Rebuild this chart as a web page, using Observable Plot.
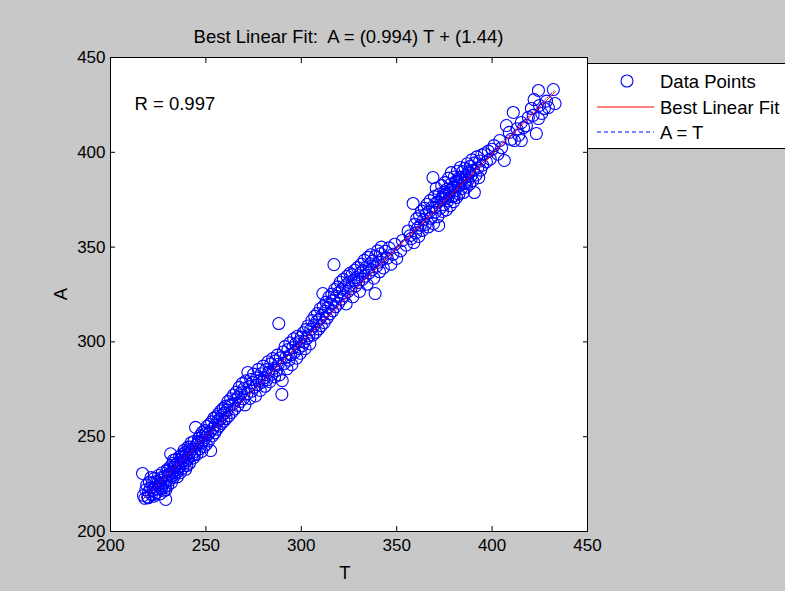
<!DOCTYPE html>
<html><head><meta charset="utf-8">
<script src="https://cdn.jsdelivr.net/npm/d3@7"></script>
<script src="https://cdn.jsdelivr.net/npm/@observablehq/plot@0.6"></script>
<style>
html,body{margin:0;padding:0;background:#c8c8c8;overflow:hidden}
#chart svg{display:block}
</style></head><body><div id="chart"></div>
<script>
// ---- data ----
const xTicks = [200, 250, 300, 350, 400, 450];
const yTicks = [200, 250, 300, 350, 400, 450];
const slope = 0.994, intercept = 1.44, rValue = 0.997;
const legendLabels = ["Data Points", "Best Linear Fit", "A = T"];

const t1 = [216.8,217.3,218,218.5,219,219.5,220,220.4,221,221.5,222,222.3,222.8,223,223.5,224,224.3,224.8,225.2,225.6,226,226.4,226.8,227.2,227.5,228,228.3,228.9,229.2,229.6,230,230.4,230.8,231.2,231.5,231.9,232.3,232.7,233,233.4,233.8,234.2,234.6,235,235.4,235.8,236.2,236.6,237,237.4,237.8,238.2,238.6,239,239.4,239.8,240.2,240.6,241,241.4,241.8,242.2,242.6,243,243.4,243.8,244.2,244.6,245,245.4,245.7,246.2,246.6,247,247.4,247.8,248.2,248.6,249,249.4,249.8,250.2,250.6,251,251.4,251.8,252.2,252.5,253,253.4,253.8,254.2,254.6,255,255.4,255.8,256.2,256.6,257,257.4,257.8,258.2,258.6,259,259.4,259.8,260.2,260.6,261,261.5,262,223.2,225,226.6,228.6,230.2,232,234,236,238,240,242,244,246,248,250,221.2,219.8,227,229,231,233,235,237,239,241];
const a1 = [230.6,219,217.5,222,224.5,218.2,221,226,223,219.5,225.5,221.8,218.6,228,223.5,220.5,226.5,222.4,229.5,224.8,219.8,227,222.8,231,225.6,221.4,229,216.9,226.5,232.5,224.2,229.5,227,234,241,225.8,231.2,236,228.5,233.8,230.2,238,232.6,228.8,236.2,233.5,239.5,231,235.8,240.6,233.4,237.5,242.8,236.2,232.8,240.4,237.6,244.5,239.2,236,242,246.8,240,243.4,238.8,247.5,242.2,254.9,245.6,240.8,246.4,249.2,243.6,250.6,246.8,242.2,252.4,248,244.8,253.2,249.6,246,255.5,251.2,247.8,256.4,252.6,242.7,257.8,250.4,254.5,259.8,252,256.2,260.5,254,258.4,262,255.6,259.2,263.6,257,261.5,264.8,258.2,262.5,266,259.6,264,268.5,261,219.6,226.2,224,223.8,232,229.2,235,234.4,239.6,234.8,244.6,240.6,247.4,250,251.8,228.4,217.8,228.6,222,230.6,237.6,231.4,238.4,241.6,243.2];

const t2 = [262.5,263,263.5,264,264.5,265,265.5,266,266.7,267,267.5,268,268.5,269,269.5,270,270.5,271,271.5,272,272.5,273,273.5,274,274.5,275,275.5,276,276.5,277,277.5,278,278.5,279,279.5,280,280.5,281,281.5,282,282.5,283,283.5,284,284.5,285,285.5,286,286.5,287,287.5,288,288.2,288.5,289,289.8,290,290.5,291,291.5,292,292.5,293,293.5,294,294.5,295,295.5,296,296.5,297,297.5,298,298.5,299,299.5,300];
const a2 = [266.6,270,262.8,267.2,272,264.6,269.4,273.5,266.5,271,276,268.6,273.2,278,270,275.4,266.8,279.5,272.6,283.9,276.4,270.2,280.2,274,278.5,283,276.2,271.5,281,277.4,285.5,279.6,274.4,283.2,278.8,287.2,281,276.6,285.4,280,289.5,284,279,288.4,283,291.2,286,281.5,290,285,293,288.2,309.7,282.6,291.6,272.3,279.6,294.8,288.6,297.5,292,285.8,296,290.4,299.5,293.2,288,297,301.6,294.6,299,291.4,303,296.6,300.2,294,302.5];

const t3 = [300.5,301,301.5,302,302.5,303,303.5,304,304.5,305,305.5,306,306.5,307,307.5,308,308.5,309,309.5,310,310.5,311,311.3,311.5,312,312.5,313,313.5,314,314.5,315,315.5,316,316.5,317,317.1,317.5,318,318.5,319,319.5,320,320.5,321,321.5,322,322.5,323,323.5,324,324.5,325,325.5,326,326.6,327,327.5,328,328.5,329,329.5,330,330.5,331,331.5,332,332.5,333,333.5,334,334.5,335,335.5,336,336.5,337,337.5,338,338.7,339,339.5,340,340.5,341,341.5,342,342.5,343,344,345,346,347,348,349,350,352,353,355,357];
const a3 = [298,304.8,300,296.4,306.5,301.8,308.4,303.4,299,306.6,311.2,303.6,308.6,313.5,305,310.6,315,306.8,312,317.5,308.6,314,325.5,318.6,310.2,316.2,321,312.6,318.2,323.6,314.8,320,325.2,316.4,322,340.8,327.6,318.6,324,329,320.4,326.2,331.5,322.6,327.8,333,324.4,329.6,320,334.6,326.6,331.4,336.2,328,335.5,323.8,332.6,337.8,329.6,334,339.2,331.4,326.6,336.4,341,333,337.6,343,334.6,339.4,330.4,344.6,336.4,341.2,346,338,342.6,333.6,325.5,345.2,340,348,342,337,346.5,350,343.6,339,347.8,344.2,349.6,341,346.2,351.5,344,348,353.5,351,356];

const t4 = [356,357.6,358.6,359,359.5,360,360.5,361,361.5,362,362.5,363,363.5,364,364.5,365,365.5,366,366.5,367,367.5,368,368.5,369,369.3,369.8,370.2,370.7,371,371.5,372,372.3,372.8,373.2,373.6,374,374.4,374.8,375.2,375.6,376,376.4,376.8,377.2,377.6,378,378.3,378.6,379,379.4,379.8,380.2,380.6,381,381.4,381.8,382.2,382.6,383,383.4,383.8,384.2,384.6,385,385.4,385.8,386.2,386.6,387,387.4,387.8,388.2,388.6,389,389.4,389.8,390.2,390.7,391,391.5,392,392.5,393,393.5,394,394.5,395,396,397,398,399,400,370,372,374,376,378,380,382,384,386,388,380,375,383];
const a4 = [358.5,354.5,373,352.4,362,357.5,365,360,355.6,366.5,361.6,369,358.8,364.4,370.5,362,367.6,372.6,360.6,368.6,374.5,365.2,371,386.7,362.4,376.6,368.4,381,373.6,366,361.4,378,370.6,375.2,382.4,368.8,377.2,372.4,384,375.8,369.6,380.6,374.4,386.4,378.2,371.8,383.2,389.3,376.6,381.4,374,387,379.8,384.6,376.2,390,382.4,378,386.8,392,380.8,385.4,389.8,378.8,383.6,391.6,387,381.6,394,385.4,389.8,383.2,392.6,387.6,396,385,390.6,378.8,394.4,388,397.6,391.8,386.6,395.4,390.6,398.6,393.2,399.2,395,400.6,396.4,401.6,371,374,376,378,380,382,385,387,384,389,377,379,383];

const t5 = [401,403,404,405,406.4,407.5,409,410,411.1,411.7,413,414,415.3,415.3,416.5,418,419,420.6,421.5,422,423.2,424.3,424.3,424.8,426,427.4,428.5,429.5,432.1,433];
const a5 = [403.5,399,406.2,402.4,395.7,414.1,410.5,406.8,421,406.2,412.4,409,415.7,406.2,413,414.1,418.4,423.1,419.5,427.8,409.9,432.6,417.8,424.7,420.5,423.1,427,423.6,433.1,425.7];

const T = [...t1, ...t2, ...t3, ...t4, ...t5];
const A = [...a1, ...a2, ...a3, ...a4, ...a5];
const points = T.map((t, i) => ({T: t, A: A[i]}));

const lo = d3.min([...T, ...A]), hi = d3.max([...T, ...A]);
const fitLine = [lo, hi].map(v => ({x: v, y: slope * v + intercept}));
const idLine = [lo, hi].map(v => ({x: v, y: v}));

const FONT = "'Liberation Sans', Arial, sans-serif";
const FS = 17;     // tick labels
const FT = 18.5;   // title, labels, legend
const M = {left: 110, right: 198, top: 57, bottom: 60};
const W = 785, H = 591;

const svg = Plot.plot({
  width: W, height: H,
  marginLeft: M.left, marginRight: M.right, marginTop: M.top, marginBottom: M.bottom,
  style: {background: "#c8c8c8", fontFamily: FONT, fontSize: FS + "px", color: "#000"},
  x: {domain: [200, 450], label: null},
  y: {domain: [200, 450], label: null},
  marks: [
    Plot.frame({fill: "white", stroke: "none"}),
    Plot.dot(points, {x: "T", y: "A", r: 6, stroke: "#0000ff", strokeWidth: 1.1, fill: "none"}),
    Plot.line(fitLine, {x: "x", y: "y", stroke: "#ff0000", strokeWidth: 1}),
    Plot.line(idLine, {x: "x", y: "y", stroke: "#0000ff", strokeWidth: 1, strokeDasharray: "1,2"}),
    Plot.text([`R = ${rValue}`], {frameAnchor: "top-left", dx: 24, dy: 39, textAnchor: "start", fontSize: FT, fill: "#000"}),
    Plot.frame({stroke: "#000", strokeWidth: 1}),
    Plot.axisX({ticks: xTicks, anchor: "bottom", tickSize: 0, tickPadding: 7, label: null}),
    Plot.axisY({ticks: yTicks, anchor: "left", tickSize: 0, tickPadding: 5, label: null}),
    Plot.axisX({ticks: xTicks, anchor: "bottom", tickSize: 5, dy: -5, tickFormat: () => "", label: null}),
    Plot.axisX({ticks: xTicks, anchor: "top", tickSize: 5, dy: 5, tickFormat: () => "", label: null}),
    Plot.axisY({ticks: yTicks, anchor: "left", tickSize: 5, dx: 5, tickFormat: () => "", label: null}),
    Plot.axisY({ticks: yTicks, anchor: "right", tickSize: 5, dx: -5, tickFormat: () => "", label: null})
  ]
});

const s = d3.select(svg);
const cx = M.left + (W - M.left - M.right) / 2;
// title
s.append("text").attr("x", cx).attr("y", 36).attr("text-anchor", "middle").attr("dominant-baseline", "central")
  .style("white-space", "pre").style("font-size", FT + "px").attr("fill", "#000")
  .text(`Best Linear Fit:  A = (${slope}) T + (${intercept})`);
// axis titles
s.append("text").attr("x", 345).attr("y", 572).attr("text-anchor", "middle").attr("dominant-baseline", "central")
  .style("font-size", FT + "px").attr("fill", "#000").text("T");
s.append("text").attr("transform", "translate(60,294) rotate(-90)").attr("text-anchor", "middle").attr("dominant-baseline", "central")
  .style("font-size", FT + "px").attr("fill", "#000").text("A");

// legend
const lg = s.append("g");
lg.append("rect").attr("x", 587.5).attr("y", 63.5).attr("width", 230).attr("height", 85)
  .attr("fill", "white").attr("stroke", "#000");
const rowsY = [81, 107, 132];
lg.append("circle").attr("cx", 627).attr("cy", rowsY[0]).attr("r", 6).attr("fill", "none").attr("stroke", "#0000ff").attr("stroke-width", 1.1);
lg.append("line").attr("x1", 597).attr("x2", 654).attr("y1", rowsY[1]).attr("y2", rowsY[1]).attr("stroke", "#ff0000");
lg.append("line").attr("x1", 597).attr("x2", 654).attr("y1", rowsY[2]).attr("y2", rowsY[2]).attr("stroke", "#0000ff").attr("stroke-dasharray", "4,3");
legendLabels.forEach((lab, i) => {
  lg.append("text").attr("x", 660).attr("y", rowsY[i]).attr("text-anchor", "start").attr("dominant-baseline", "central")
    .style("font-size", FT + "px").attr("fill", "#000").text(lab);
});

document.getElementById("chart").appendChild(svg);
</script>
</body></html>
